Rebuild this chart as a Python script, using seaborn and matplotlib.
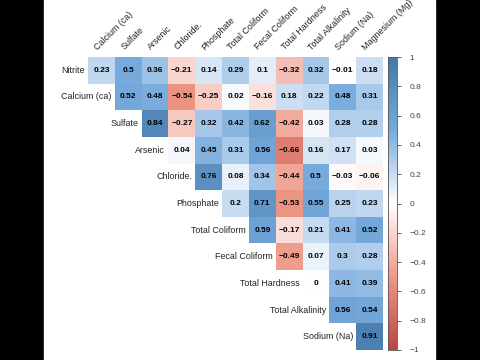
import numpy as np
import pandas as pd
import seaborn as sns
from matplotlib import pyplot as plt
from matplotlib.colors import LinearSegmentedColormap
from matplotlib.patches import Rectangle

plt.rcParams['font.family'] = ['Liberation Sans', 'DejaVu Sans']

# variable names (rows use the first 11, columns use the last 11)
variables = ['Nitrite', 'Calcium (ca)', 'Sulfate', 'Arsenic', 'Chloride.', 'Phosphate',
             'Total Coliform', 'Fecal Coliform', 'Total Hardness', 'Total Alkalinity',
             'Sodium (Na)', 'Magnesium (Mg)']

# upper triangle, each row starts at the column after itself
nitrite = [0.23, 0.5, 0.36, -0.21, 0.14, 0.29, 0.1, -0.32, 0.32, -0.01, 0.18]
calcium = [0.52, 0.48, -0.54, -0.25, 0.02, -0.16, 0.18, 0.22, 0.48, 0.31]
sulfate = [0.84, -0.27, 0.32, 0.42, 0.62, -0.42, 0.03, 0.28, 0.28]
arsenic = [0.04, 0.45, 0.31, 0.56, -0.66, 0.16, 0.17, 0.03]
chloride = [0.76, 0.08, 0.34, -0.44, 0.5, -0.03, -0.06]
phosphate = [0.2, 0.71, -0.53, 0.55, 0.25, 0.23]
total_coliform = [0.59, -0.17, 0.21, 0.41, 0.52]
fecal_coliform = [-0.49, 0.07, 0.3, 0.28]
total_hardness = [0, 0.41, 0.39]
total_alkalinity = [0.56, 0.54]
sodium = [0.91]

cbar_ticks = [-1, -0.8, -0.6, -0.4, -0.2, 0, 0.2, 0.4, 0.6, 0.8, 1]

rows = [nitrite, calcium, sulfate, arsenic, chloride, phosphate, total_coliform,
        fecal_coliform, total_hardness, total_alkalinity, sodium]
n = len(rows)
mat = np.full((n, n), np.nan)
for i, r in enumerate(rows):
    mat[i, i:] = r
df = pd.DataFrame(mat, index=variables[:-1], columns=variables[1:])

annot = df.map(lambda v: '' if np.isnan(v) else f'{v:g}'.replace('-', '\u2212'))

cmap = LinearSegmentedColormap.from_list(
    'corr', ['#BB4444', '#EE9988', '#FFFFFF', '#77AADD', '#4477AA'], N=200)

fig = plt.figure(figsize=(4.8, 3.6), dpi=100, facecolor='black')
fig.patches.append(Rectangle((44 / 480, 0), 391 / 480, 1, transform=fig.transFigure,
                             color='white', zorder=-1))

ax = fig.add_axes([88 / 480, 10 / 360, 295 / 480, 293 / 360])
cax = fig.add_axes([388 / 480, 10 / 360, 9 / 480, 293 / 360])

sns.heatmap(df, mask=df.isna(), cmap=cmap, vmin=-1, vmax=1, annot=annot, fmt='',
            annot_kws={'fontsize': 6, 'fontweight': 'bold', 'color': 'black'},
            cbar=False, ax=ax)
ax.set_xticks([])
ax.set_yticks([])
ax.set_xlabel('')
ax.set_ylabel('')

# labels on the diagonal and across the top
for i, name in enumerate(variables[:-1]):
    ax.text(i - 0.12, i + 0.5, name, ha='right', va='center', fontsize=6.4, color='#222222')
for j, name in enumerate(variables[1:]):
    ax.text(j + 0.4, -0.2, name, ha='left', va='bottom', rotation=45,
            rotation_mode='anchor', fontsize=6.4, color='#222222')

cb = fig.colorbar(ax.collections[0], cax=cax)
cb.set_ticks(cbar_ticks)
cb.set_ticklabels([f'{t:g}'.replace('-', '\u2212') for t in cbar_ticks])
cb.ax.tick_params(labelsize=6, length=3, width=0.6, colors='#444444', pad=6)
cb.outline.set_edgecolor('#555555')
cb.outline.set_linewidth(0.6)

fig.savefig('out.png', dpi=100, facecolor=fig.get_facecolor())
